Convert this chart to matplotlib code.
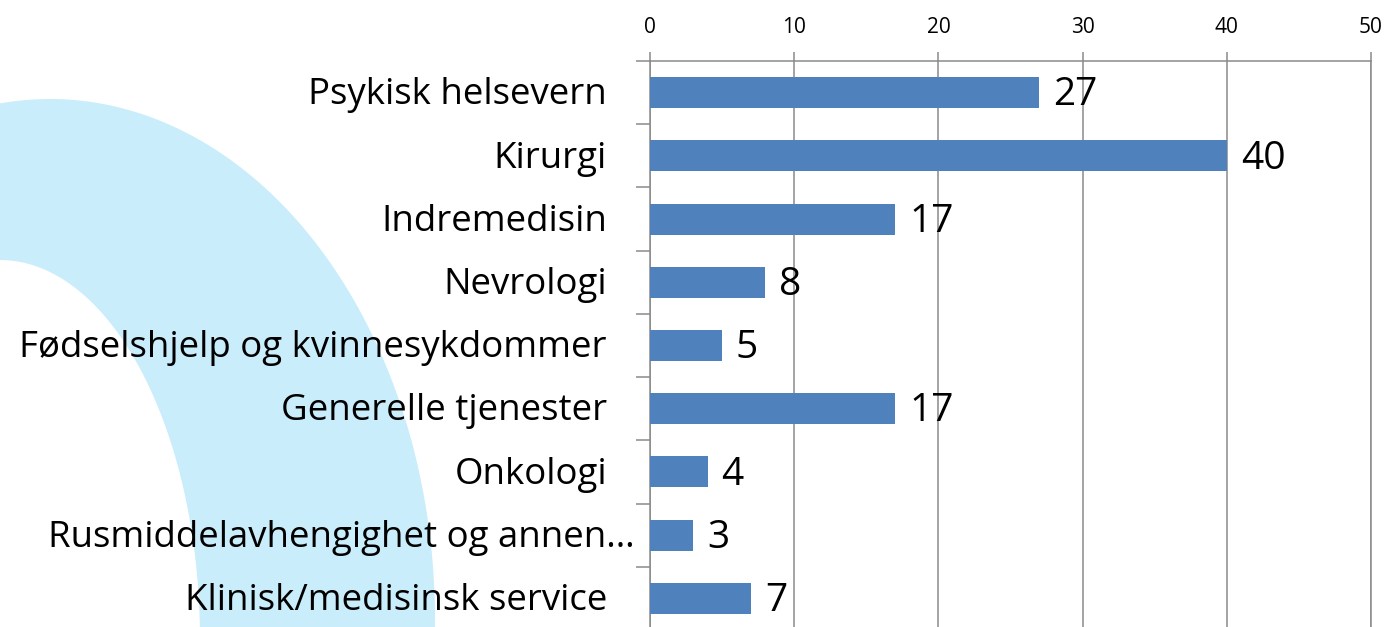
import numpy as np
import matplotlib.pyplot as plt
from matplotlib.patches import Polygon

plt.rcParams['font.family'] = ['Open Sans', 'DejaVu Sans']

# data
categories = ["Psykisk helsevern", "Kirurgi", "Indremedisin", "Nevrologi",
              "Fødselshjelp og kvinnesykdommer", "Generelle tjenester", "Onkologi",
              "Rusmiddelavhengighet og annen…", "Klinisk/medisinsk service"]
counts = [27, 40, 17, 8, 5, 17, 4, 3, 7]
x_ticks = [0, 10, 20, 30, 40, 50]

W, H = 1388, 627
fig = plt.figure(figsize=(W / 100, H / 100), dpi=100)
fig.patch.set_facecolor('white')


# decorative light blue arc in the background (pixel coords, origin top-left)
def half_ellipse(cx, cy, a, b, t):
    x = cx + a * np.cos(t)
    y = cy - b * np.sin(t)
    return np.column_stack([x / W, 1 - y / H])


t = np.linspace(-0.3, np.pi + 0.3, 200)
outer = half_ellipse(50, 620, 385, 521, t)
inner = half_ellipse(0, 640, 200, 380, t[::-1])
ring = Polygon(np.vstack([outer, inner]), closed=True, transform=fig.transFigure,
               facecolor='#C9EDFB', edgecolor='none', zorder=-1)
fig.add_artist(ring)

ax = fig.add_axes([650 / W, 1 - 630 / H, (1371 - 650) / W, (630 - 61) / H])
ax.set_facecolor('none')

y = np.arange(len(categories))
ax.barh(y, counts, height=0.49, color='#4F81BD', zorder=3)

ax.set_xlim(0, 50)
ax.set_ylim(len(categories) - 0.5, -0.5)

grey = '#8A8A8A'
ax.xaxis.tick_top()
ax.set_xticks(x_ticks)
ax.set_xticklabels([str(v) for v in x_ticks], fontsize=15)
ax.tick_params(axis='x', direction='out', length=6.5, width=1.1, color=grey, pad=10)
ax.grid(axis='x', color=grey, linewidth=1.1, zorder=0)

ax.set_yticks([])
ax.set_yticks(np.arange(-0.5, len(categories), 1), minor=True)
ax.tick_params(axis='y', which='minor', direction='out', length=10, width=1.1,
               color=grey, labelleft=False)

for side in ['top', 'left', 'right']:
    ax.spines[side].set_color(grey)
    ax.spines[side].set_linewidth(1.1)
ax.spines['bottom'].set_visible(False)

for i, (cat, n) in enumerate(zip(categories, counts)):
    gap = -11 if cat.endswith('…') else -31
    ax.annotate(cat, xy=(0, i), xycoords=('axes fraction', 'data'),
                xytext=(gap, -2), textcoords='offset points',
                ha='right', va='center', fontsize=26.4, annotation_clip=False)
    ax.annotate(str(n), xy=(n, i), xytext=(10, -2), textcoords='offset points',
                ha='left', va='center', fontsize=28)

fig.savefig('out.png', dpi=100)
